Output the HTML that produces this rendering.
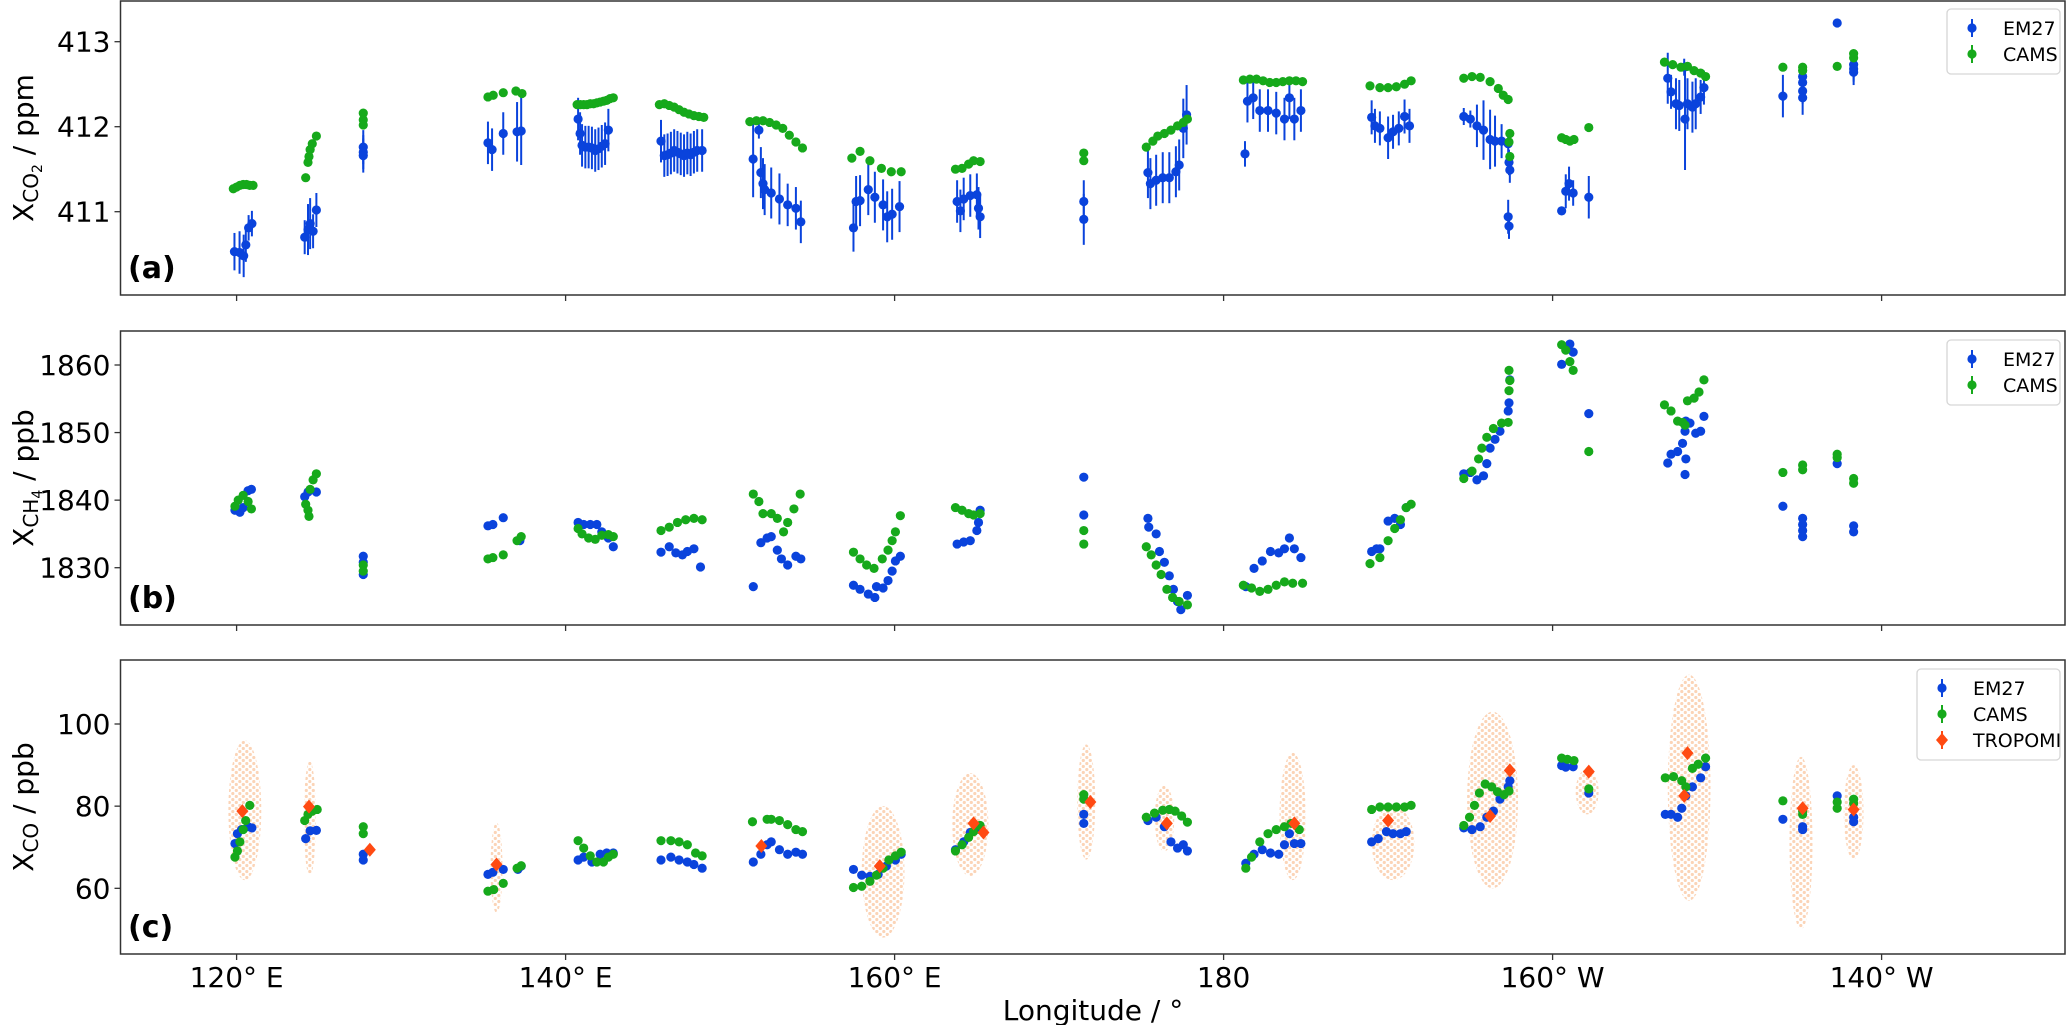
<!DOCTYPE html>
<html><head><meta charset="utf-8"><style>
html,body{margin:0;padding:0;background:#fff;}
svg{display:block;font-family:"DejaVu Sans","Liberation Sans",sans-serif;}
</style></head><body>
<svg id="chart" width="2067" height="1025" viewBox="0 0 2067 1025" xmlns="http://www.w3.org/2000/svg">
<defs>
<pattern id="dotpat" width="7" height="6" patternUnits="userSpaceOnUse">
<circle cx="1.8" cy="1.5" r="1.6" fill="#f6a060"/>
<circle cx="5.3" cy="4.5" r="1.6" fill="#f6a060"/>
</pattern>
</defs>
</svg>
<script>
// ---------- DATA ----------
const xTicks = [120,140,160,180,200,220];
const xTickLabels = ["120° E","140° E","160° E","180","160° W","140° W"];
const co2Ticks = [411,412,413];
const ch4Ticks = [1830,1840,1850,1860];
const coTicks = [60,80,100];

// CO2 EM27 [lon, value, err]
const co2Em27 = [
[119.87,410.53,0.22],[120.18,410.52,0.25],[120.43,410.48,0.25],[120.56,410.61,0.2],[120.73,410.81,0.15],[120.93,410.86,0.15],
[124.14,410.70,0.2],[124.34,410.79,0.3],[124.47,410.86,0.3],[124.65,410.77,0.2],[124.85,411.02,0.2],
[127.7,411.76,0.2],[127.7,411.70,0.2],[127.7,411.66,0.2],
[135.28,411.81,0.25],[135.53,411.73,0.25],[136.21,411.92,0.25],[137.05,411.94,0.35],[137.30,411.95,0.4],
[140.76,412.09,0.25],[140.88,411.92,0.25],[141.0,411.78,0.25],[141.2,411.76,0.25],[141.4,411.76,0.25],[141.6,411.75,0.25],[141.8,411.72,0.25],[142.0,411.74,0.25],[142.2,411.77,0.25],[142.4,411.80,0.25],[142.6,411.96,0.25],
[145.8,411.83,0.25],[146.0,411.66,0.25],[146.2,411.67,0.25],[146.4,411.69,0.25],[146.6,411.72,0.25],[146.8,411.70,0.25],[147.0,411.68,0.25],[147.2,411.66,0.25],[147.4,411.69,0.25],[147.6,411.67,0.25],[147.8,411.70,0.25],[148.0,411.72,0.25],[148.3,411.72,0.25],
[151.4,411.62,0.45],[151.75,411.96,0.1],[151.87,411.46,0.3],[152.0,411.33,0.3],[152.1,411.26,0.3],[152.5,411.22,0.3],[153.0,411.15,0.3],[153.5,411.08,0.25],[154.0,411.04,0.25],[154.3,410.88,0.25],
[157.5,410.81,0.28],[157.66,411.12,0.3],[157.9,411.13,0.3],[158.4,411.26,0.3],[158.8,411.17,0.3],[159.3,411.08,0.3],[159.55,410.94,0.3],[159.85,410.97,0.3],[160.3,411.06,0.3],
[163.8,411.12,0.25],[164.0,411.01,0.25],[164.2,411.15,0.25],[164.6,411.19,0.25],[165.0,411.20,0.25],[165.1,411.04,0.25],[165.2,410.94,0.25],
[171.5,411.12,0.25],[171.5,410.91,0.3],
[175.4,411.46,0.3],[175.55,411.33,0.3],[175.9,411.37,0.3],[176.3,411.40,0.3],[176.7,411.40,0.3],[177.1,411.47,0.3],[177.3,411.55,0.3],[177.55,411.98,0.35],[177.75,412.14,0.35],
[181.3,411.68,0.15],[181.45,412.30,0.25],[181.8,412.34,0.25],[182.2,412.19,0.25],[182.7,412.19,0.25],[183.2,412.16,0.25],[183.7,412.09,0.25],[184.0,412.34,0.25],[184.3,412.09,0.25],[184.7,412.19,0.25],
[189.0,412.11,0.2],[189.2,412.01,0.2],[189.5,411.98,0.2],[190.0,411.87,0.25],[190.3,411.94,0.2],[190.65,411.98,0.2],[191.0,412.12,0.2],[191.3,412.01,0.2],
[194.6,412.12,0.1],[195.0,412.09,0.1],[195.4,412.01,0.25],[195.8,411.96,0.35],[196.2,411.85,0.35],[196.5,411.83,0.3],[196.9,411.83,0.2],[197.3,411.80,0.15],[197.35,411.58,0.15],[197.4,411.49,0.15],[197.3,410.94,0.2],[197.35,410.83,0.15],
[200.55,411.01,0.05],[200.8,411.24,0.2],[201.0,411.33,0.2],[201.25,411.22,0.15],[202.2,411.17,0.25],
[207.0,412.57,0.3],[207.2,412.41,0.2],[207.5,412.27,0.3],[207.7,412.25,0.3],[208.0,412.70,0.1],[208.05,412.09,0.6],[208.2,412.27,0.3],[208.5,412.23,0.3],[208.7,412.27,0.3],[209.0,412.35,0.2],[209.2,412.46,0.2],
[214.0,412.36,0.25],
[215.2,412.59,0.1],[215.2,412.52,0.1],[215.2,412.42,0.15],[215.2,412.34,0.2],
[217.3,413.22,0.03],
[218.3,412.73,0.15],[218.3,412.68,0.15],[218.3,412.64,0.15]
];
// CO2 CAMS [lon, value]
const co2Cams = [
[119.8,411.27],[120.0,411.29],[120.2,411.31],[120.4,411.32],[120.6,411.32],[120.8,411.31],[121.0,411.31],
[124.2,411.40],[124.34,411.58],[124.4,411.65],[124.47,411.73],[124.6,411.80],[124.85,411.89],
[127.7,412.16],[127.7,412.08],[127.7,412.02],
[135.28,412.35],[135.6,412.37],[136.21,412.40],[136.98,412.42],[137.35,412.39],
[140.7,412.26],[140.9,412.26],[141.1,412.26],[141.3,412.26],[141.5,412.27],[141.7,412.27],[141.9,412.28],[142.1,412.29],[142.3,412.30],[142.5,412.31],[142.7,412.33],[142.9,412.34],
[145.7,412.26],[146.0,412.27],[146.3,412.25],[146.6,412.23],[146.9,412.20],[147.2,412.17],[147.5,412.15],[147.8,412.13],[148.1,412.12],[148.4,412.11],
[151.2,412.06],[151.6,412.07],[152.0,412.07],[152.4,412.05],[152.8,412.02],[153.2,411.98],[153.6,411.90],[154.0,411.82],[154.4,411.75],
[157.4,411.63],[157.9,411.71],[158.5,411.60],[159.2,411.51],[159.8,411.47],[160.4,411.47],
[163.7,411.50],[164.1,411.51],[164.5,411.56],[164.8,411.60],[165.2,411.59],
[171.5,411.69],[171.5,411.60],
[175.3,411.76],[175.7,411.83],[176.0,411.89],[176.4,411.92],[176.8,411.96],[177.2,412.01],[177.55,412.05],[177.8,412.09],
[181.2,412.55],[181.6,412.56],[182.0,412.56],[182.4,412.54],[182.8,412.52],[183.2,412.52],[183.6,412.53],[184.0,412.54],[184.4,412.54],[184.8,412.53],
[188.9,412.48],[189.5,412.46],[190.0,412.46],[190.5,412.47],[191.0,412.50],[191.4,412.54],
[194.6,412.57],[195.1,412.59],[195.6,412.58],[196.2,412.53],[196.7,412.45],[197.0,412.37],[197.3,412.32],[197.4,411.92],[197.35,411.82],[197.4,411.65],
[200.55,411.87],[200.8,411.85],[201.05,411.83],[201.3,411.85],[202.2,411.99],
[206.8,412.76],[207.3,412.73],[207.8,412.70],[208.2,412.71],[208.6,412.66],[209.0,412.63],[209.3,412.59],
[214.0,412.70],[215.2,412.70],[215.2,412.66],[217.3,412.71],[218.3,412.86],[218.3,412.81]
];
// CH4 EM27 [lon, value]
const ch4Em27 = [
[119.9,1838.5],[120.2,1838.2],[120.4,1838.9],[120.7,1841.4],[120.9,1841.6],
[124.14,1840.5],[124.34,1841.2],[124.85,1841.2],
[127.7,1831.7],[127.7,1830.8],[127.7,1829.0],
[135.28,1836.2],[135.58,1836.4],[136.21,1837.4],[137.22,1834.0],
[140.76,1836.7],[141.1,1836.4],[141.5,1836.4],[141.9,1836.4],[142.2,1835.3],[142.6,1834.4],[142.9,1833.1],
[145.8,1832.3],[146.3,1833.1],[146.7,1832.2],[147.1,1831.9],[147.4,1832.4],[147.8,1832.8],[148.2,1830.1],
[151.41,1827.2],[151.87,1833.7],[152.25,1834.4],[152.5,1834.6],[152.87,1832.6],[153.12,1831.3],[153.5,1830.4],[154.0,1831.7],[154.3,1831.3],
[157.5,1827.4],[157.9,1826.8],[158.4,1826.1],[158.8,1825.6],[158.9,1827.2],[159.3,1827.0],[159.6,1828.1],[159.85,1829.5],[160.05,1831.0],[160.35,1831.7],
[163.8,1833.5],[164.2,1833.8],[164.6,1834.0],[165.0,1835.5],[165.1,1836.7],[165.2,1838.5],
[171.5,1843.4],[171.5,1837.8],
[175.4,1837.3],[175.45,1836.0],[175.9,1835.0],[176.1,1832.4],[176.4,1830.8],[176.7,1828.8],[176.95,1826.8],[177.2,1825.0],[177.4,1823.8],[177.8,1825.9],
[181.35,1827.2],[181.85,1829.9],[182.35,1831.0],[182.85,1832.4],[183.35,1832.2],[183.7,1832.8],[184.0,1834.4],[184.3,1832.8],[184.7,1831.5],
[189.0,1832.4],[189.3,1832.8],[189.5,1832.8],[190.0,1836.9],[190.4,1837.3],[190.75,1836.4],[191.1,1838.9],
[194.6,1843.9],[195.0,1844.1],[195.4,1843.0],[195.8,1843.6],[196.0,1845.4],[196.2,1847.7],[196.5,1849.0],[196.8,1850.2],[197.3,1853.2],[197.35,1854.4],[197.4,1857.8],
[200.55,1860.1],[200.85,1862.5],[201.05,1863.1],[201.25,1861.9],[202.2,1852.8],
[207.0,1845.5],[207.2,1846.8],[207.6,1847.2],[207.9,1848.4],[208.05,1850.2],[208.1,1851.7],[208.1,1846.1],[208.05,1843.8],[208.35,1851.4],[208.7,1849.9],[209.0,1850.2],[209.2,1852.4],
[214.0,1839.1],
[215.2,1837.3],[215.2,1836.4],[215.2,1835.5],[215.2,1834.6],
[217.3,1845.4],
[218.3,1836.2],[218.3,1835.3]
];
// CH4 CAMS [lon, value]
const ch4Cams = [
[119.9,1839.1],[120.1,1840.0],[120.4,1840.7],[120.7,1839.8],[120.9,1838.7],
[124.2,1839.4],[124.34,1838.5],[124.4,1837.6],[124.47,1841.6],[124.65,1843.0],[124.85,1843.9],
[127.7,1830.4],[127.7,1829.5],
[135.28,1831.3],[135.58,1831.5],[136.21,1831.9],[137.05,1834.0],[137.3,1834.6],
[140.76,1835.8],[141.0,1835.0],[141.4,1834.4],[141.8,1834.2],[142.2,1834.8],[142.6,1834.9],[142.9,1834.6],
[145.8,1835.5],[146.3,1836.0],[146.8,1836.7],[147.3,1837.1],[147.8,1837.3],[148.3,1837.1],
[151.41,1840.9],[151.75,1839.8],[152.0,1838.0],[152.5,1838.0],[152.87,1837.3],[153.25,1835.3],[153.5,1836.7],[153.88,1838.7],[154.26,1840.9],
[157.5,1832.3],[157.9,1831.3],[158.3,1830.4],[158.75,1829.9],[159.25,1831.3],[159.6,1832.6],[159.85,1834.0],[160.05,1835.3],[160.35,1837.7],
[163.7,1838.9],[164.1,1838.5],[164.5,1838.0],[164.8,1837.8],[165.2,1838.0],
[171.5,1835.5],[171.5,1833.5],
[175.3,1833.1],[175.6,1831.9],[175.9,1830.4],[176.2,1829.0],[176.55,1826.8],[176.9,1825.6],[177.3,1825.0],[177.8,1824.5],
[181.2,1827.4],[181.7,1827.0],[182.2,1826.5],[182.7,1826.8],[183.2,1827.4],[183.7,1827.9],[184.2,1827.7],[184.8,1827.7],
[188.9,1830.6],[189.5,1831.5],[190.0,1834.0],[190.4,1835.8],[190.75,1837.1],[191.1,1838.9],[191.4,1839.4],
[194.6,1843.2],[195.1,1844.3],[195.5,1846.1],[195.7,1847.7],[196.0,1849.3],[196.4,1850.6],[196.9,1851.4],[197.3,1851.5],[197.35,1856.2],[197.4,1857.7],[197.35,1859.2],
[200.55,1863.0],[200.8,1862.2],[201.05,1860.5],[201.25,1859.2],[202.2,1847.2],
[206.8,1854.1],[207.2,1853.2],[207.6,1851.7],[207.9,1851.5],[208.05,1851.1],[208.2,1854.7],[208.6,1855.1],[208.9,1856.0],[209.2,1857.8],
[214.0,1844.1],
[215.2,1845.2],[215.2,1844.5],
[217.3,1846.8],[217.3,1846.3],
[218.3,1843.2],[218.3,1842.5]
];
// CO EM27 [lon, value]
const coEm27 = [
[119.9,70.9],[120.05,73.3],[120.3,74.3],[120.7,75.0],[120.93,74.7],
[124.2,72.1],[124.47,74.0],[124.85,74.1],
[127.7,68.3],[127.7,66.9],
[135.28,63.4],[135.58,63.9],[136.21,64.6],[137.1,64.6],[137.3,65.4],
[140.76,66.9],[141.1,67.6],[141.6,66.4],[142.1,68.3],[142.5,68.6],[142.9,68.6],
[145.8,66.9],[146.4,67.6],[146.9,66.9],[147.4,66.4],[147.8,65.8],[148.3,64.9],
[151.41,66.4],[151.87,68.3],[152.25,70.6],[152.5,71.3],[153.0,69.4],[153.5,68.3],[154.0,68.8],[154.4,68.3],
[157.5,64.6],[158.0,63.2],[158.5,62.9],[159.0,63.4],[159.5,65.4],[160.05,66.9],[160.4,68.3],
[163.7,69.4],[164.2,71.3],[164.6,73.6],[165.0,75.0],[165.2,74.3],
[171.5,78.0],[171.5,75.8],
[175.4,76.5],[175.9,77.3],[176.4,75.0],[176.8,71.3],[177.2,69.8],[177.55,70.6],[177.8,69.1],
[181.35,66.1],[181.85,68.3],[182.35,69.4],[182.85,68.6],[183.35,68.3],[183.7,70.6],[184.0,73.3],[184.3,70.9],[184.7,70.9],
[189.0,71.3],[189.4,72.1],[189.9,73.8],[190.3,73.3],[190.75,73.3],[191.1,73.8],
[194.6,74.7],[195.1,74.3],[195.6,75.0],[196.0,77.3],[196.4,78.8],[196.8,81.7],[197.3,84.7],[197.4,86.2],
[200.55,89.9],[200.8,89.5],[201.25,89.6],[202.2,83.2],
[206.85,78.0],[207.2,78.0],[207.6,77.3],[207.85,79.5],[208.1,82.5],[208.5,84.7],[209.0,86.9],[209.3,89.6],
[214.0,76.8],
[215.2,75.0],[215.2,74.3],
[217.3,82.5],
[218.3,77.3],[218.3,76.2]
];
// CO CAMS [lon, value]
const coCams = [
[119.9,67.6],[120.05,69.1],[120.2,71.3],[120.4,74.3],[120.55,76.5],[120.8,80.2],
[124.14,76.5],[124.34,78.0],[124.6,78.8],[124.9,79.2],
[127.7,75.0],[127.7,73.3],
[135.28,59.3],[135.63,59.7],[136.21,61.2],[137.05,64.9],[137.3,65.5],
[140.76,71.6],[141.1,69.8],[141.5,67.9],[141.9,66.4],[142.3,66.4],[142.6,67.6],[142.9,68.3],
[145.8,71.6],[146.4,71.6],[146.9,71.3],[147.4,70.6],[147.9,68.6],[148.3,67.9],
[151.36,76.2],[152.25,76.8],[152.5,76.8],[153.0,76.5],[153.5,75.5],[154.0,74.3],[154.4,73.8],
[157.5,60.2],[158.0,60.5],[158.5,61.7],[158.9,63.2],[159.3,64.9],[159.65,66.9],[160.05,67.9],[160.4,68.8],
[163.7,69.1],[164.1,70.6],[164.5,72.4],[164.8,73.8],[165.2,75.3],
[171.5,82.8],[171.5,81.7],
[175.3,77.3],[175.8,78.3],[176.3,79.0],[176.7,79.2],[177.05,78.8],[177.45,77.6],[177.8,76.1],
[181.35,64.9],[181.7,67.6],[182.2,71.3],[182.7,73.3],[183.2,74.3],[183.7,75.0],[184.1,75.8],[184.6,74.3],
[189.0,79.2],[189.5,79.8],[190.0,79.8],[190.5,79.8],[191.0,79.8],[191.4,80.2],
[194.6,75.3],[194.95,77.3],[195.25,80.2],[195.55,83.2],[195.9,85.4],[196.3,84.7],[196.65,83.5],[197.05,82.8],[197.35,83.7],
[200.55,91.7],[200.9,91.4],[201.3,91.1],[202.2,84.2],
[206.85,86.9],[207.35,87.2],[207.85,86.2],[208.1,84.7],[208.5,89.2],[208.85,90.2],[209.3,91.7],
[214.0,81.3],
[215.2,78.8],[215.2,78.0],
[217.3,81.0],[217.3,79.5],
[218.3,81.7],[218.3,80.7]
];
// CO TROPOMI means [lon, value]
const coTropomi = [
[120.35,78.8],[124.4,79.9],[128.1,69.4],[135.8,65.8],[151.9,70.3],[159.1,65.4],[164.8,75.8],[165.4,73.6],
[171.9,81.0],[176.55,75.8],[184.3,75.8],[190.0,76.5],[196.2,77.6],[197.4,88.7],[202.2,88.4],
[208.0,82.5],[208.2,92.9],[215.2,79.5],[218.3,79.2]
];
// TROPOMI pixel spread per overpass [lonMin, lonMax, low, high]
const coTropomiSpread = [
[119.5,121.5,62,96],[124.3,124.6,63,91],[135.6,136.0,54,76],[158.0,160.6,48,80],[163.5,165.7,63,88],
[171.1,172.2,67,95],[175.8,177.0,69,85],[183.4,185.0,62,93],[189.0,191.6,62,80],[194.8,197.9,60,103],
[201.4,202.8,78,89],[207.0,209.6,57,112],[214.4,215.8,50,92],[217.7,218.9,67,90]
];

// ---------- LAYOUT ----------
const svg = document.getElementById('chart');
const NS = 'http://www.w3.org/2000/svg';
const X0 = 120.5, X1 = 2065;
const xS = lon => 236.6 + (lon - 120) * 16.45;
const panels = [
 {id:'a', top:1, bottom:295, y: v => 41.7 + (413 - v) * 85, ticks: co2Ticks},
 {id:'b', top:331, bottom:625, y: v => 365 + (1860 - v) * 6.757, ticks: ch4Ticks},
 {id:'c', top:660, bottom:954, y: v => 724 + (100 - v) * 4.108, ticks: coTicks}
];
const BLUE = '#0a43dc', GREEN = '#16a91b', RED = '#ff4a12';

function mk(tag, attrs, parent) {
  const e = document.createElementNS(NS, tag);
  for (const k in attrs) e.setAttribute(k, attrs[k]);
  (parent || svg).appendChild(e);
  return e;
}

panels.forEach(p => {
  const g = mk('g', {});
  
  
  p.g = g;
  p.ticks.forEach(t => {
    const y = p.y(t);
    const l = mk('line', {x1: X0 - 6, x2: X0, y1: y, y2: y, stroke: '#333', 'stroke-width': 1.3}, g);
    
    
    const tx = mk('text', {x: X0 - 10, y: y + 10, 'text-anchor': 'end', 'font-size': 28, fill: '#000'}, g);
    tx.textContent = t;
    
    
  });
  xTicks.forEach(t => {
    const x = xS(t);
    const l = mk('line', {x1: x, x2: x, y1: p.bottom, y2: p.bottom + 6, stroke: '#333', 'stroke-width': 1.3}, g);
    
    
  });
});

function em(parent, lon, v, p, color, r) {
  return mk('circle', {cx: xS(lon), cy: p.y(v), r: r || 4.6, fill: color}, parent);
}

// Panel a
(function () {
  const p = panels[0];
  const gE = mk('g', {}, p.g);
  
  
  co2Em27.forEach(d => {
    const l = mk('line', {x1: xS(d[0]), x2: xS(d[0]), y1: p.y(d[1] + d[2]), y2: p.y(d[1] - d[2]), stroke: BLUE, 'stroke-width': 2}, gE);
    
    
  });
  co2Em27.forEach(d => {
    const c = em(gE, d[0], d[1], p, BLUE);
    
    
  });
  const gC = mk('g', {}, p.g);
  
  
  co2Cams.forEach(d => {
    const c = em(gC, d[0], d[1], p, GREEN);
    
    
  });
})();

// Panel b
(function () {
  const p = panels[1];
  const gE = mk('g', {}, p.g);
  
  
  ch4Em27.forEach(d => {
    const c = em(gE, d[0], d[1], p, BLUE);
    
    
  });
  const gC = mk('g', {}, p.g);
  
  
  ch4Cams.forEach(d => {
    const c = em(gC, d[0], d[1], p, GREEN);
    
    
  });
})();

// Panel c
(function () {
  const p = panels[2];
  const gS = mk('g', {}, p.g);
  
  
  coTropomiSpread.forEach(d => {
    const cx = (xS(d[0]) + xS(d[1])) / 2, rx = Math.max(6, (xS(d[1]) - xS(d[0])) / 2);
    const cy = (p.y(d[2]) + p.y(d[3])) / 2, ry = (p.y(d[2]) - p.y(d[3])) / 2;
    const e = mk('ellipse', {cx: cx, cy: cy, rx: rx, ry: ry, fill: 'url(#dotpat)', opacity: 0.45}, gS);
    
    
  });
  const gE = mk('g', {}, p.g);
  
  
  coEm27.forEach(d => {
    const c = em(gE, d[0], d[1], p, BLUE);
    
    
  });
  const gC = mk('g', {}, p.g);
  
  
  coCams.forEach(d => {
    const c = em(gC, d[0], d[1], p, GREEN);
    
    
  });
  const gT = mk('g', {}, p.g);
  
  
  coTropomi.forEach(d => {
    const x = xS(d[0]), y = p.y(d[1]);
    const pg = mk('polygon', {points: `${x},${y-7} ${x+6},${y} ${x},${y+7} ${x-6},${y}`, fill: RED}, gT);
    
    
  });
})();

// frames, panel labels, axis titles
const yTitles = [['CO','2',' / ppm'],['CH','4',' / ppb'],['CO','',' / ppb']];
panels.forEach((p, i) => {
  const f = mk('rect', {x: X0, y: p.top, width: X1 - X0, height: p.bottom - p.top, fill: 'none', stroke: '#333', 'stroke-width': 1.5}, p.g);
  
  
  const lb = mk('text', {x: 128, y: p.bottom - 17, 'font-size': 30, 'font-weight': 'bold', fill: '#000'}, p.g);
  lb.textContent = '(' + p.id + ')';
  
  
  const cy = (p.top + p.bottom) / 2;
  const t = mk('text', {transform: `translate(33,${cy}) rotate(-90)`, 'text-anchor': 'middle', 'font-size': 28, fill: '#000'}, p.g);
  
  
  const s1 = mk('tspan', {}, t); s1.textContent = 'X';
  const s2 = mk('tspan', {'font-size': 20, dy: 5}, t); s2.textContent = yTitles[i][0];
  if (yTitles[i][1]) { const s3 = mk('tspan', {'font-size': 14, dy: 4}, t); s3.textContent = yTitles[i][1]; }
  const s4 = mk('tspan', {dy: yTitles[i][1] ? -9 : -5}, t); s4.textContent = yTitles[i][2];
});

xTicks.forEach((t, i) => {
  const tx = mk('text', {x: xS(t), y: 987, 'text-anchor': 'middle', 'font-size': 28, fill: '#000'});
  tx.textContent = xTickLabels[i];
  
  
});
const xt = mk('text', {x: 1093, y: 1020, 'text-anchor': 'middle', 'font-size': 28, fill: '#000'});
xt.textContent = 'Longitude / °';



function legend(x, y, w, entries, mx, tx) {
  const g = mk('g', {});
  
  
  mk('rect', {x: x, y: y, width: w, height: 13 + entries.length * 26, rx: 4, fill: '#fff', 'fill-opacity': 0.8, stroke: '#d6d6d6', 'stroke-width': 1.3}, g);
  entries.forEach((e, i) => {
    const cy = y + 19 + i * 26;
    const eg = mk('g', {}, g);
    
    
    mk('line', {x1: mx, x2: mx, y1: cy - 9, y2: cy + 9, stroke: e[1], 'stroke-width': 2}, eg);
    if (e[2] === 'd') mk('polygon', {points: `${mx},${cy-7} ${mx+6},${cy} ${mx},${cy+7} ${mx-6},${cy}`, fill: e[1]}, eg);
    else mk('circle', {cx: mx, cy: cy, r: 4.6, fill: e[1]}, eg);
    const t = mk('text', {x: tx, y: cy + 7, 'font-size': 19, fill: '#000'}, eg);
    t.textContent = e[0];
  });
}
legend(1947, 9, 113, [['EM27', BLUE], ['CAMS', GREEN]], 1972, 2003);
legend(1947, 340, 113, [['EM27', BLUE], ['CAMS', GREEN]], 1972, 2003);
legend(1917, 669, 143, [['EM27', BLUE], ['CAMS', GREEN], ['TROPOMI', RED, 'd']], 1942, 1973);
</script>
</body></html>
